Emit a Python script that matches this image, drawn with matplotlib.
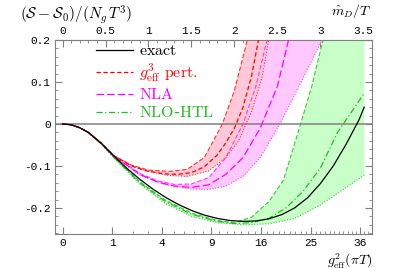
import numpy as np
import matplotlib
matplotlib.use("Agg")
import matplotlib.pyplot as plt
from matplotlib.ticker import FixedLocator, MultipleLocator

plt.rcParams['mathtext.fontset'] = 'cm'

# x is m_D/T (top axis); bottom axis is g_eff^2 with m_D/T = g/sqrt(3)
md_per_g = 1 / np.sqrt(3)

# exact
x_ex = [0, 0.1, 0.2, 0.3, 0.45, 0.6, 0.75, 0.9, 1.05, 1.2, 1.35, 1.5, 1.65, 1.8,
        1.95, 2.1, 2.25, 2.4, 2.55, 2.7, 2.85, 3.0, 3.15, 3.3, 3.45, 3.51]
y_ex = [0, -0.002, -0.009, -0.02, -0.046, -0.077, -0.106, -0.132, -0.155, -0.175,
        -0.192, -0.206, -0.217, -0.225, -0.23, -0.232, -0.231, -0.226, -0.216,
        -0.2, -0.176, -0.142, -0.1, -0.048, 0.01, 0.04]

# g^3 perturbative: centre, upper edge, lower edge
x_pt = [0, 0.1, 0.2, 0.3, 0.45, 0.6, 0.8, 1.0, 1.2, 1.34, 1.5, 1.65, 1.8, 1.9,
        2.0, 2.1, 2.2, 2.28, 2.35]
y_pt = [0, -0.002, -0.009, -0.02, -0.046, -0.076, -0.1, -0.113, -0.119, -0.12,
        -0.116, -0.102, -0.074, -0.045, -0.01, 0.04, 0.115, 0.2, 0.27]
x_pt_hi = [0, 0.1, 0.2, 0.3, 0.45, 0.6, 0.8, 1.0, 1.25, 1.45, 1.65, 1.86, 2.0,
           2.15, 2.22]
y_pt_hi = [0, -0.002, -0.009, -0.02, -0.046, -0.076, -0.098, -0.11, -0.113,
           -0.108, -0.08, 0.0, 0.08, 0.2, 0.26]
x_pt_lo = [0, 0.1, 0.2, 0.3, 0.45, 0.6, 0.9, 1.2, 1.45, 1.7, 1.9, 2.05, 2.2,
           2.32, 2.4, 2.47]
y_pt_lo = [0, -0.002, -0.009, -0.02, -0.046, -0.077, -0.108, -0.122, -0.125,
           -0.112, -0.08, -0.04, 0.03, 0.11, 0.2, 0.27]

# NLA
x_nla = [0, 0.1, 0.2, 0.3, 0.45, 0.6, 0.9, 1.1, 1.3, 1.5, 1.7, 1.9, 2.1, 2.3,
         2.5, 2.63, 2.72]
y_nla = [0, -0.002, -0.009, -0.02, -0.046, -0.077, -0.12, -0.138, -0.148,
         -0.151, -0.145, -0.12, -0.08, -0.01, 0.09, 0.2, 0.27]
x_nla_hi = [0, 0.1, 0.2, 0.3, 0.45, 0.6, 0.9, 1.1, 1.3, 1.5, 1.7, 1.9, 2.1,
            2.25, 2.38, 2.45]
y_nla_hi = [0, -0.002, -0.009, -0.02, -0.046, -0.077, -0.118, -0.135, -0.144,
            -0.143, -0.128, -0.08, 0.0, 0.09, 0.2, 0.26]
x_nla_lo = [0, 0.1, 0.2, 0.3, 0.45, 0.6, 0.9, 1.2, 1.5, 1.7, 1.9, 2.1, 2.3,
            2.53, 2.75, 3.02, 3.1]
y_nla_lo = [0, -0.002, -0.009, -0.02, -0.046, -0.078, -0.122, -0.145, -0.155,
            -0.156, -0.148, -0.125, -0.08, 0.0, 0.09, 0.2, 0.24]

# NLO-HTL
x_htl = [0, 0.1, 0.2, 0.3, 0.45, 0.6, 0.9, 1.2, 1.5, 1.8, 2.0, 2.2, 2.4, 2.6,
         2.8, 3.0, 3.2, 3.3, 3.4, 3.5]
y_htl = [0, -0.002, -0.009, -0.021, -0.047, -0.08, -0.14, -0.185, -0.215,
         -0.232, -0.237, -0.235, -0.225, -0.2, -0.16, -0.105, -0.02, 0.01,
         0.04, 0.07]
x_htl_hi = [0, 0.1, 0.2, 0.3, 0.45, 0.6, 0.9, 1.2, 1.5, 1.8, 2.0, 2.2, 2.4,
            2.57, 2.77, 2.9, 3.03, 3.2, 3.51]
y_htl_hi = [0, -0.002, -0.009, -0.021, -0.047, -0.08, -0.138, -0.182, -0.212,
            -0.23, -0.235, -0.222, -0.185, -0.134, 0.0, 0.09, 0.2, 0.35, 0.7]
x_htl_lo = [0, 0.1, 0.2, 0.3, 0.45, 0.6, 0.9, 1.2, 1.5, 1.8, 2.1, 2.4, 2.7,
            3.0, 3.2, 3.51]
y_htl_lo = [0, -0.002, -0.009, -0.022, -0.048, -0.082, -0.143, -0.19, -0.22,
            -0.235, -0.24, -0.238, -0.225, -0.193, -0.165, -0.122]

g_major = [0, 1, 2, 3, 4, 5, 6]
g_minor = [np.sqrt(n) for n in range(1, 40) if int(np.sqrt(n)) ** 2 != n]

fig = plt.figure(figsize=(4.03, 2.68), dpi=100)
ax = fig.add_axes([0.136, 0.127, 0.787, 0.724])

bands = [
    (x_htl_hi, y_htl_hi, x_htl_lo, y_htl_lo, '#c8ffc8', '#33cc33'),
    (x_nla_hi, y_nla_hi, x_nla_lo, y_nla_lo, '#ffc8ff', '#ff33ff'),
    (x_pt_hi, y_pt_hi, x_pt_lo, y_pt_lo, '#ffc8d8', '#ff3030'),
]
for xh, yh, xl, yl, fc, lc in bands:
    ax.fill(list(xh) + list(xl[::-1]), list(yh) + list(yl[::-1]),
            color=fc, lw=0, zorder=1)
    ax.plot(xh, yh, color=lc, lw=0.8, ls=(0, (4, 2)), zorder=2)
    ax.plot(xl, yl, color=lc, lw=0.8, ls=(0, (1, 1.5)), zorder=2)

ax.axhline(0, color='#808080', lw=1.1, zorder=1.5)

ax.plot(x_htl, y_htl, color='#22bb22', lw=0.9, ls=(0, (5, 2, 1, 2)), zorder=3,
        label=r'$\mathrm{NLO}$-$\mathrm{HTL}$')
ax.plot(x_nla, y_nla, color='#ff00ff', lw=0.9, ls=(0, (6, 2.5)), zorder=3,
        label=r'$\mathrm{NLA}$')
ax.plot(x_pt, y_pt, color='#ff0000', lw=0.9, ls=(0, (3.5, 2)), zorder=3,
        label=r'$g_{\rm eff}^3\ \mathrm{pert.}$')
ax.plot(x_ex, y_ex, color='black', lw=0.9, zorder=4, label=r'$\mathrm{exact}$')

ax.set_xlim(-0.09, 3.6)
ax.set_ylim(-0.262, 0.2)

handles, labels = ax.get_legend_handles_labels()
leg = ax.legend(handles[::-1], labels[::-1], loc='upper left',
                bbox_to_anchor=(0.095, 1.04), frameon=False, fontsize=11.5,
                handlelength=2.3, handletextpad=0.4, labelspacing=0.2,
                borderpad=0.2)
for txt, h in zip(leg.get_texts(), handles[::-1]):
    txt.set_color(h.get_color())

tick_font = dict(family='Liberation Mono', size=8)
# bottom: g_eff^2
ax.xaxis.set_major_locator(FixedLocator([g * md_per_g for g in g_major]))
ax.xaxis.set_minor_locator(FixedLocator([g * md_per_g for g in g_minor]))
ax.set_xticklabels([str(g * g) for g in g_major], **tick_font)
# top: m_D/T
top = ax.secondary_xaxis('top')
top.xaxis.set_minor_locator(MultipleLocator(0.1))
top.set_xticks([0, 0.5, 1, 1.5, 2, 2.5, 3, 3.5])
top.set_xticklabels(['0', '0.5', '1', '1.5', '2', '2.5', '3', '3.5'], **tick_font)

ax.yaxis.set_minor_locator(MultipleLocator(0.02))
ax.set_yticks([-0.2, -0.1, 0, 0.1, 0.2])
ax.set_yticklabels(['-0.2', '-0.1', '0', '0.1', '0.2'], **tick_font)

for a in (ax, top):
    a.tick_params(which='both', direction='in', color='#808080', pad=3)
    a.tick_params(which='major', length=5)
    a.tick_params(which='minor', length=2.5)
ax.tick_params(which='both', right=True)
for s in ax.spines.values():
    s.set_color('#808080')
for s in top.spines.values():
    s.set_color('#808080')

fig.text(0.05, 0.93, r'$(\mathcal{S}-\mathcal{S}_0)/(N_g\, T^3)$', fontsize=11)
fig.text(0.923, 0.945, r'$\hat m_D/T$', fontsize=10, ha='right')
fig.text(0.923, 0.015, r'$g_{\rm eff}^2(\pi T)$', fontsize=10, ha='right')

fig.savefig('out.png', dpi=100)
